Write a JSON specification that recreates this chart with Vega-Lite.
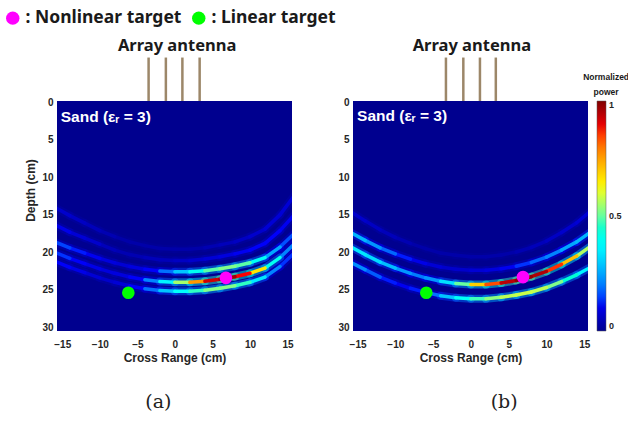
{
  "$schema": "https://vega.github.io/schema/vega-lite/v6.json",
  "padding": {"left": 4, "top": 9, "right": 0, "bottom": 0},
  "bounds": "flush",
  "spacing": 61,
  "datasets": {
    "arcsA": [
      {"arc":1,"x":-16,"y":14.0,"x2":-14,"y2":15.1,"v":0.07},
      {"arc":1,"x":-14,"y":15.1,"x2":-12,"y2":16.1,"v":0.06},
      {"arc":1,"x":-12,"y":16.1,"x2":-10,"y2":17.1,"v":0.05},
      {"arc":1,"x":-10,"y":17.1,"x2":-8,"y2":17.9,"v":0.04},
      {"arc":1,"x":-8,"y":17.9,"x2":-6,"y2":18.6,"v":0.03},
      {"arc":1,"x":-6,"y":18.6,"x2":-4,"y2":19.1,"v":0.03},
      {"arc":1,"x":-4,"y":19.1,"x2":-2,"y2":19.5,"v":0.03},
      {"arc":1,"x":-2,"y":19.5,"x2":0,"y2":19.6,"v":0.03},
      {"arc":1,"x":0,"y":19.6,"x2":2,"y2":19.6,"v":0.03},
      {"arc":1,"x":2,"y":19.6,"x2":4,"y2":19.4,"v":0.03},
      {"arc":1,"x":4,"y":19.4,"x2":6,"y2":19.0,"v":0.04},
      {"arc":1,"x":6,"y":19.0,"x2":8,"y2":18.6,"v":0.05},
      {"arc":1,"x":8,"y":18.6,"x2":10,"y2":17.9,"v":0.06},
      {"arc":1,"x":10,"y":17.9,"x2":12,"y2":16.9,"v":0.07},
      {"arc":1,"x":12,"y":16.9,"x2":14,"y2":15.0,"v":0.08},
      {"arc":1,"x":14,"y":15.0,"x2":16,"y2":12.3,"v":0.08},
      {"arc":2,"x":-16,"y":16.3,"x2":-14,"y2":17.3,"v":0.10},
      {"arc":2,"x":-14,"y":17.3,"x2":-12,"y2":18.1,"v":0.08},
      {"arc":2,"x":-12,"y":18.1,"x2":-10,"y2":18.9,"v":0.07},
      {"arc":2,"x":-10,"y":18.9,"x2":-8,"y2":19.7,"v":0.05},
      {"arc":2,"x":-8,"y":19.7,"x2":-6,"y2":20.3,"v":0.04},
      {"arc":2,"x":-6,"y":20.3,"x2":-4,"y2":20.7,"v":0.04},
      {"arc":2,"x":-4,"y":20.7,"x2":-2,"y2":21.0,"v":0.05},
      {"arc":2,"x":-2,"y":21.0,"x2":0,"y2":21.1,"v":0.05},
      {"arc":2,"x":0,"y":21.1,"x2":2,"y2":21.1,"v":0.06},
      {"arc":2,"x":2,"y":21.1,"x2":4,"y2":20.9,"v":0.07},
      {"arc":2,"x":4,"y":20.9,"x2":6,"y2":20.6,"v":0.08},
      {"arc":2,"x":6,"y":20.6,"x2":8,"y2":20.2,"v":0.09},
      {"arc":2,"x":8,"y":20.2,"x2":10,"y2":19.7,"v":0.11},
      {"arc":2,"x":10,"y":19.7,"x2":12,"y2":18.8,"v":0.12},
      {"arc":2,"x":12,"y":18.8,"x2":14,"y2":17.1,"v":0.12},
      {"arc":2,"x":14,"y":17.1,"x2":16,"y2":14.9,"v":0.11},
      {"arc":3,"x":-16,"y":18.6,"x2":-14,"y2":19.4,"v":0.15},
      {"arc":3,"x":-14,"y":19.4,"x2":-12,"y2":20.1,"v":0.13},
      {"arc":3,"x":-12,"y":20.1,"x2":-10,"y2":20.8,"v":0.11},
      {"arc":3,"x":-10,"y":20.8,"x2":-8,"y2":21.4,"v":0.09},
      {"arc":3,"x":-8,"y":21.4,"x2":-6,"y2":21.9,"v":0.08},
      {"arc":3,"x":-6,"y":21.9,"x2":-4,"y2":22.25,"v":0.09},
      {"arc":3,"x":-4,"y":22.25,"x2":-2,"y2":22.5,"v":0.12},
      {"arc":3,"x":-2,"y":22.5,"x2":0,"y2":22.6,"v":0.19},
      {"arc":3,"x":0,"y":22.6,"x2":2,"y2":22.6,"v":0.29},
      {"arc":3,"x":2,"y":22.6,"x2":4,"y2":22.45,"v":0.40},
      {"arc":3,"x":4,"y":22.45,"x2":6,"y2":22.2,"v":0.49},
      {"arc":3,"x":6,"y":22.2,"x2":8,"y2":21.85,"v":0.52},
      {"arc":3,"x":8,"y":21.85,"x2":10,"y2":21.4,"v":0.49},
      {"arc":3,"x":10,"y":21.4,"x2":12,"y2":20.7,"v":0.39},
      {"arc":3,"x":12,"y":20.7,"x2":14,"y2":19.3,"v":0.25},
      {"arc":3,"x":14,"y":19.3,"x2":16,"y2":17.4,"v":0.16},
      {"arc":4,"x":-16,"y":20.0,"x2":-14,"y2":20.8,"v":0.14},
      {"arc":4,"x":-14,"y":20.8,"x2":-12,"y2":21.5,"v":0.12},
      {"arc":4,"x":-12,"y":21.5,"x2":-10,"y2":22.2,"v":0.10},
      {"arc":4,"x":-10,"y":22.2,"x2":-8,"y2":22.8,"v":0.09},
      {"arc":4,"x":-8,"y":22.8,"x2":-6,"y2":23.3,"v":0.09},
      {"arc":4,"x":-6,"y":23.3,"x2":-4,"y2":23.65,"v":0.12},
      {"arc":4,"x":-4,"y":23.65,"x2":-2,"y2":23.9,"v":0.21},
      {"arc":4,"x":-2,"y":23.9,"x2":0,"y2":24.0,"v":0.36},
      {"arc":4,"x":0,"y":24.0,"x2":2,"y2":24.0,"v":0.55},
      {"arc":4,"x":2,"y":24.0,"x2":4,"y2":23.85,"v":0.76},
      {"arc":4,"x":4,"y":23.85,"x2":6,"y2":23.6,"v":0.92},
      {"arc":4,"x":6,"y":23.6,"x2":8,"y2":23.25,"v":0.97},
      {"arc":4,"x":8,"y":23.25,"x2":10,"y2":22.8,"v":0.88},
      {"arc":4,"x":10,"y":22.8,"x2":12,"y2":22.1,"v":0.66},
      {"arc":4,"x":12,"y":22.1,"x2":14,"y2":20.7,"v":0.40},
      {"arc":4,"x":14,"y":20.7,"x2":16,"y2":18.8,"v":0.21},
      {"arc":5,"x":-16,"y":21.2,"x2":-14,"y2":22.0,"v":0.12},
      {"arc":5,"x":-14,"y":22.0,"x2":-12,"y2":22.7,"v":0.10},
      {"arc":5,"x":-12,"y":22.7,"x2":-10,"y2":23.4,"v":0.08},
      {"arc":5,"x":-10,"y":23.4,"x2":-8,"y2":24.0,"v":0.07},
      {"arc":5,"x":-8,"y":24.0,"x2":-6,"y2":24.5,"v":0.08},
      {"arc":5,"x":-6,"y":24.5,"x2":-4,"y2":24.85,"v":0.12},
      {"arc":5,"x":-4,"y":24.85,"x2":-2,"y2":25.1,"v":0.19},
      {"arc":5,"x":-2,"y":25.1,"x2":0,"y2":25.2,"v":0.29},
      {"arc":5,"x":0,"y":25.2,"x2":2,"y2":25.2,"v":0.38},
      {"arc":5,"x":2,"y":25.2,"x2":4,"y2":25.05,"v":0.46},
      {"arc":5,"x":4,"y":25.05,"x2":6,"y2":24.8,"v":0.52},
      {"arc":5,"x":6,"y":24.8,"x2":8,"y2":24.45,"v":0.52},
      {"arc":5,"x":8,"y":24.45,"x2":10,"y2":24.0,"v":0.46},
      {"arc":5,"x":10,"y":24.0,"x2":12,"y2":23.3,"v":0.34},
      {"arc":5,"x":12,"y":23.3,"x2":14,"y2":21.9,"v":0.21},
      {"arc":5,"x":14,"y":21.9,"x2":16,"y2":20.0,"v":0.14}
    ],
    "arcsB": [
      {"arc":0,"x":-16,"y":14.5,"x2":-14,"y2":15.8,"v":0.07},
      {"arc":0,"x":-14,"y":15.8,"x2":-12,"y2":17.0,"v":0.06},
      {"arc":0,"x":-12,"y":17.0,"x2":-10,"y2":18.0,"v":0.05},
      {"arc":0,"x":-10,"y":18.0,"x2":-8,"y2":18.8,"v":0.04},
      {"arc":0,"x":-8,"y":18.8,"x2":-6,"y2":19.5,"v":0.03},
      {"arc":0,"x":-6,"y":19.5,"x2":-4,"y2":20.1,"v":0.03},
      {"arc":0,"x":-4,"y":20.1,"x2":-2,"y2":20.4,"v":0.03},
      {"arc":0,"x":-2,"y":20.4,"x2":0,"y2":20.6,"v":0.03},
      {"arc":0,"x":0,"y":20.6,"x2":2,"y2":20.6,"v":0.03},
      {"arc":0,"x":2,"y":20.6,"x2":4,"y2":20.35,"v":0.03},
      {"arc":0,"x":4,"y":20.35,"x2":6,"y2":19.95,"v":0.03},
      {"arc":0,"x":6,"y":19.95,"x2":8,"y2":19.35,"v":0.04},
      {"arc":0,"x":8,"y":19.35,"x2":10,"y2":18.5,"v":0.05},
      {"arc":0,"x":10,"y":18.5,"x2":12,"y2":17.35,"v":0.06},
      {"arc":0,"x":12,"y":17.35,"x2":14,"y2":16.05,"v":0.07},
      {"arc":0,"x":14,"y":16.05,"x2":16,"y2":14.35,"v":0.08},
      {"arc":1,"x":-16,"y":17.3,"x2":-14,"y2":18.4,"v":0.27},
      {"arc":1,"x":-14,"y":18.4,"x2":-12,"y2":19.4,"v":0.23},
      {"arc":1,"x":-12,"y":19.4,"x2":-10,"y2":20.2,"v":0.18},
      {"arc":1,"x":-10,"y":20.2,"x2":-8,"y2":20.9,"v":0.13},
      {"arc":1,"x":-8,"y":20.9,"x2":-6,"y2":21.5,"v":0.10},
      {"arc":1,"x":-6,"y":21.5,"x2":-4,"y2":21.95,"v":0.08},
      {"arc":1,"x":-4,"y":21.95,"x2":-2,"y2":22.25,"v":0.07},
      {"arc":1,"x":-2,"y":22.25,"x2":0,"y2":22.4,"v":0.07},
      {"arc":1,"x":0,"y":22.4,"x2":2,"y2":22.4,"v":0.08},
      {"arc":1,"x":2,"y":22.4,"x2":4,"y2":22.2,"v":0.09},
      {"arc":1,"x":4,"y":22.2,"x2":6,"y2":21.85,"v":0.11},
      {"arc":1,"x":6,"y":21.85,"x2":8,"y2":21.35,"v":0.14},
      {"arc":1,"x":8,"y":21.35,"x2":10,"y2":20.65,"v":0.18},
      {"arc":1,"x":10,"y":20.65,"x2":12,"y2":19.7,"v":0.21},
      {"arc":1,"x":12,"y":19.7,"x2":14,"y2":18.6,"v":0.25},
      {"arc":1,"x":14,"y":18.6,"x2":16,"y2":17.2,"v":0.27},
      {"arc":2,"x":-16,"y":19.2,"x2":-14,"y2":20.3,"v":0.34},
      {"arc":2,"x":-14,"y":20.3,"x2":-12,"y2":21.3,"v":0.32},
      {"arc":2,"x":-12,"y":21.3,"x2":-10,"y2":22.1,"v":0.28},
      {"arc":2,"x":-10,"y":22.1,"x2":-8,"y2":22.8,"v":0.23},
      {"arc":2,"x":-8,"y":22.8,"x2":-6,"y2":23.4,"v":0.20},
      {"arc":2,"x":-6,"y":23.4,"x2":-4,"y2":23.85,"v":0.23},
      {"arc":2,"x":-4,"y":23.85,"x2":-2,"y2":24.15,"v":0.33},
      {"arc":2,"x":-2,"y":24.15,"x2":0,"y2":24.3,"v":0.50},
      {"arc":2,"x":0,"y":24.3,"x2":2,"y2":24.3,"v":0.69},
      {"arc":2,"x":2,"y":24.3,"x2":4,"y2":24.1,"v":0.84},
      {"arc":2,"x":4,"y":24.1,"x2":6,"y2":23.75,"v":0.94},
      {"arc":2,"x":6,"y":23.75,"x2":8,"y2":23.25,"v":0.98},
      {"arc":2,"x":8,"y":23.25,"x2":10,"y2":22.55,"v":0.95},
      {"arc":2,"x":10,"y":22.55,"x2":12,"y2":21.6,"v":0.86},
      {"arc":2,"x":12,"y":21.6,"x2":14,"y2":20.5,"v":0.71},
      {"arc":2,"x":14,"y":20.5,"x2":16,"y2":19.1,"v":0.56},
      {"arc":3,"x":-16,"y":21.3,"x2":-14,"y2":22.3,"v":0.22},
      {"arc":3,"x":-14,"y":22.3,"x2":-12,"y2":23.3,"v":0.17},
      {"arc":3,"x":-12,"y":23.3,"x2":-10,"y2":24.1,"v":0.13},
      {"arc":3,"x":-10,"y":24.1,"x2":-8,"y2":24.8,"v":0.11},
      {"arc":3,"x":-8,"y":24.8,"x2":-6,"y2":25.35,"v":0.13},
      {"arc":3,"x":-6,"y":25.35,"x2":-4,"y2":25.8,"v":0.19},
      {"arc":3,"x":-4,"y":25.8,"x2":-2,"y2":26.05,"v":0.29},
      {"arc":3,"x":-2,"y":26.05,"x2":0,"y2":26.2,"v":0.39},
      {"arc":3,"x":0,"y":26.2,"x2":2,"y2":26.2,"v":0.47},
      {"arc":3,"x":2,"y":26.2,"x2":4,"y2":26.0,"v":0.53},
      {"arc":3,"x":4,"y":26.0,"x2":6,"y2":25.7,"v":0.57},
      {"arc":3,"x":6,"y":25.7,"x2":8,"y2":25.3,"v":0.58},
      {"arc":3,"x":8,"y":25.3,"x2":10,"y2":24.7,"v":0.57},
      {"arc":3,"x":10,"y":24.7,"x2":12,"y2":23.9,"v":0.52},
      {"arc":3,"x":12,"y":23.9,"x2":14,"y2":23.0,"v":0.44},
      {"arc":3,"x":14,"y":23.0,"x2":16,"y2":21.9,"v":0.36}
    ]
  },
  "hconcat": [
    {
      "width": 235,
      "height": 230,
      "encoding": {
        "x": {"field": "x", "type": "quantitative", "title": "Cross Range (cm)",
              "scale": {"domain": [-15.7, 15.6], "nice": false, "zero": false},
              "axis": {"values": [-15, -10, -5, 0, 5, 10, 15], "labelPadding": 8, "titlePadding": 3}},
        "y": {"field": "y", "type": "quantitative", "title": "Depth (cm)",
              "scale": {"domain": [-0.2, 30.5], "nice": false, "zero": false, "reverse": true},
              "axis": {"values": [0, 5, 10, 15, 20, 25, 30], "labelPadding": 4, "titlePadding": 4, "titleY": 89}}
      },
      "layer": [
        {
          "data": {"name": "arcsA"},
          "mark": {"type": "rule", "strokeWidth": 8, "strokeCap": "round", "opacity": 0.45, "clip": true},
          "encoding": {
            "x2": {"field": "x2"}, "y2": {"field": "y2"},
            "stroke": {"field": "v", "type": "quantitative", "legend": null,
                       "scale": {"domain": [0, 0.25, 0.75, 1.25, 1.75, 2], "range": ["#00008f", "#0000ff", "#00ffff", "#ffff00", "#ff0000", "#800000"]}},
            "order": {"field": "v"}
          }
        },
        {
          "data": {"name": "arcsA"},
          "mark": {"type": "rule", "strokeWidth": 3.5, "strokeCap": "round", "clip": true},
          "encoding": {
            "x2": {"field": "x2"}, "y2": {"field": "y2"},
            "color": {"field": "v", "type": "quantitative", "legend": null,
                      "scale": {"domain": [0, 0.125, 0.375, 0.625, 0.875, 1], "range": ["#00008f", "#0000ff", "#00ffff", "#ffff00", "#ff0000", "#800000"]}},
            "order": {"field": "v"}
          }
        },
        {
          "data": {"values": [
            {"x": -3.5, "y": -6.0, "y2": -0.2},
            {"x": -1.2, "y": -6.0, "y2": -0.2},
            {"x": 1.0, "y": -6.0, "y2": -0.2},
            {"x": 3.3, "y": -6.0, "y2": -0.2}
          ]},
          "mark": {"type": "rule", "color": "#9c8769", "strokeWidth": 2.5},
          "encoding": {"y2": {"field": "y2"}}
        },
        {
          "data": {"values": [
            {"target": "Nonlinear target", "x": 6.8, "y": 23.4},
            {"target": "Linear target", "x": -6.2, "y": 25.4}
          ]},
          "mark": {"type": "circle", "size": 160, "opacity": 1},
          "encoding": {
            "fill": {"field": "target", "type": "nominal",
                     "scale": {"domain": ["Nonlinear target", "Linear target"], "range": ["#ff00ff", "#00ff00"]},
                     "legend": {"orient": "none", "legendX": -53, "legendY": -92, "direction": "horizontal", "title": null,
                                "symbolType": "circle", "symbolSize": 180, "symbolStrokeWidth": 0, "symbolOpacity": 1,
                                "labelFont": "Noto Sans", "labelFontSize": 17.5, "labelFontWeight": "bold", "labelColor": "#1a1a1a",
                                "labelExpr": "': ' + datum.label", "labelLimit": 400, "labelOffset": 4, "columnPadding": 8, "padding": 0}}
          }
        },
        {
          "data": {"values": [{"x": -15.2, "y": 1.9, "t": "Sand (εᵣ = 3)"}]},
          "mark": {"type": "text", "align": "left", "baseline": "middle", "color": "#ffffff", "fontSize": 15.5, "fontWeight": "bold", "font": "Liberation Sans"},
          "encoding": {"text": {"field": "t"}}
        },
        {
          "data": {"values": [{"x": 0.3, "y": -7.6, "t": "Array antenna"}]},
          "mark": {"type": "text", "align": "center", "baseline": "middle", "color": "#1a1a1a", "fontSize": 16.5, "fontWeight": "bold", "font": "Noto Sans"},
          "encoding": {"text": {"field": "t"}}
        },
        {
          "data": {"values": [{"x": -2.2, "y": 40.0, "t": "(a)"}]},
          "mark": {"type": "text", "align": "center", "baseline": "middle", "color": "#222222", "fontSize": 19, "font": "DejaVu Serif"},
          "encoding": {"text": {"field": "t"}}
        }
      ]
    },
    {
      "width": 235,
      "height": 230,
      "encoding": {
        "x": {"field": "x", "type": "quantitative", "title": "Cross Range (cm)",
              "scale": {"domain": [-15.6, 15.5], "nice": false, "zero": false},
              "axis": {"values": [-15, -10, -5, 0, 5, 10, 15], "labelPadding": 8, "titlePadding": 3}},
        "y": {"field": "y", "type": "quantitative", "title": null,
              "scale": {"domain": [-0.2, 30.5], "nice": false, "zero": false, "reverse": true},
              "axis": {"values": [0, 5, 10, 15, 20, 25, 30], "labelPadding": 4}}
      },
      "layer": [
        {
          "data": {"name": "arcsB"},
          "mark": {"type": "rule", "strokeWidth": 8, "strokeCap": "round", "opacity": 0.45, "clip": true},
          "encoding": {
            "x2": {"field": "x2"}, "y2": {"field": "y2"},
            "stroke": {"field": "v", "type": "quantitative", "legend": null,
                       "scale": {"domain": [0, 0.25, 0.75, 1.25, 1.75, 2], "range": ["#00008f", "#0000ff", "#00ffff", "#ffff00", "#ff0000", "#800000"]}},
            "order": {"field": "v"}
          }
        },
        {
          "data": {"name": "arcsB"},
          "mark": {"type": "rule", "strokeWidth": 3.5, "strokeCap": "round", "clip": true},
          "encoding": {
            "x2": {"field": "x2"}, "y2": {"field": "y2"},
            "color": {"field": "v", "type": "quantitative",
                      "scale": {"domain": [0, 0.125, 0.375, 0.625, 0.875, 1], "range": ["#00008f", "#0000ff", "#00ffff", "#ffff00", "#ff0000", "#800000"]},
                      "legend": {"orient": "none", "legendX": 244, "legendY": 0, "direction": "vertical",
                                 "gradientLength": 230, "gradientThickness": 9, "gradientStrokeColor": "#555555", "gradientStrokeWidth": 0.5,
                                 "values": [0, 0.5, 1], "format": "~g", "title": null,
                                 "labelFont": "Liberation Sans", "labelFontSize": 9, "labelFontWeight": "bold", "labelColor": "#262626",
                                 "labelOffset": 3, "padding": 0}},
            "order": {"field": "v"}
          }
        },
        {
          "data": {"values": [
            {"x": -3.3, "y": -6.0, "y2": -0.2},
            {"x": -1.0, "y": -6.0, "y2": -0.2},
            {"x": 1.2, "y": -6.0, "y2": -0.2},
            {"x": 3.3, "y": -6.0, "y2": -0.2}
          ]},
          "mark": {"type": "rule", "color": "#9c8769", "strokeWidth": 2.5},
          "encoding": {"y2": {"field": "y2"}}
        },
        {
          "data": {"values": [
            {"target": "Nonlinear target", "x": 6.9, "y": 23.3},
            {"target": "Linear target", "x": -5.9, "y": 25.4}
          ]},
          "mark": {"type": "circle", "size": 160, "opacity": 1},
          "encoding": {
            "fill": {"field": "target", "type": "nominal", "legend": null,
                     "scale": {"domain": ["Nonlinear target", "Linear target"], "range": ["#ff00ff", "#00ff00"]}}
          }
        },
        {
          "data": {"values": [{"x": -15.06, "y": 1.8, "t": "Sand (εᵣ = 3)"}]},
          "mark": {"type": "text", "align": "left", "baseline": "middle", "color": "#ffffff", "fontSize": 15.5, "fontWeight": "bold", "font": "Liberation Sans"},
          "encoding": {"text": {"field": "t"}}
        },
        {
          "data": {"values": [{"x": 0.13, "y": -7.6, "t": "Array antenna"}]},
          "mark": {"type": "text", "align": "center", "baseline": "middle", "color": "#1a1a1a", "fontSize": 16.5, "fontWeight": "bold", "font": "Noto Sans"},
          "encoding": {"text": {"field": "t"}}
        },
        {
          "data": {"values": [
            {"x": 17.9, "y": -3.4, "t": "Normalized"},
            {"x": 17.9, "y": -1.4, "t": "power"}
          ]},
          "mark": {"type": "text", "align": "center", "baseline": "middle", "color": "#1a1a1a", "fontSize": 8.5, "fontWeight": "bold", "font": "Liberation Sans"},
          "encoding": {"text": {"field": "t"}}
        },
        {
          "data": {"values": [{"x": 4.4, "y": 40.0, "t": "(b)"}]},
          "mark": {"type": "text", "align": "center", "baseline": "middle", "color": "#222222", "fontSize": 19, "font": "DejaVu Serif"},
          "encoding": {"text": {"field": "t"}}
        }
      ]
    }
  ],
  "resolve": {
    "scale": {"color": "independent", "stroke": "independent", "fill": "independent", "x": "independent", "y": "independent"},
    "legend": {"color": "independent", "stroke": "independent", "fill": "independent"}
  },
  "config": {
    "view": {"fill": "#00008f", "stroke": null},
    "axis": {
      "ticks": false, "domain": false, "grid": false,
      "labelFont": "Liberation Sans", "labelFontSize": 10, "labelFontWeight": "bold", "labelColor": "#262626",
      "titleFont": "Liberation Sans", "titleFontSize": 12, "titleFontWeight": "bold", "titleColor": "#262626"
    }
  }
}
